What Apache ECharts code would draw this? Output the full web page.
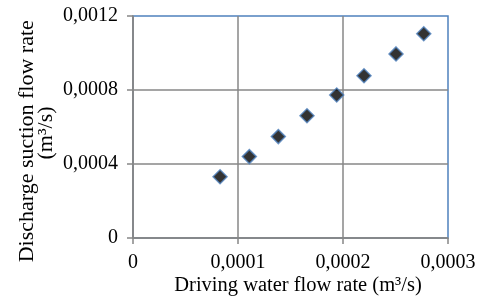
<!DOCTYPE html>
<html>
<head>
<meta charset="utf-8">
<script src="https://cdn.jsdelivr.net/npm/echarts@6/dist/echarts.min.js"></script>
<style>html,body{margin:0;padding:0;background:#fff}#c{width:478px;height:298px}</style>
</head>
<body>
<div id="c"></div>
<script>
const xTitle = 'Driving water flow rate (m³/s)';
const yTitle = 'Discharge suction flow rate   \n(m³/s)';
const drivingFlow = [0.0000829, 0.0001108, 0.0001384, 0.0001657, 0.000194, 0.00022, 0.0002505, 0.0002769];
const suctionFlow = [0.000331, 0.000440, 0.000548, 0.000661, 0.000773, 0.000877, 0.000995, 0.001104];

const fmt = v => v === 0 ? '0' : v.toFixed(4).replace('.', ',');
const font = '"Liberation Serif", "Times New Roman", serif';
const grey = '#878787';
const blue = '#4f81bd';

const chart = echarts.init(document.getElementById('c'), null, {renderer: 'canvas'});
chart.setOption({
  animation: false,
  grid: {left: 133, right: 30, top: 16, bottom: 60, outerBoundsMode: 'none', containLabel: false, show: true, borderColor: blue, borderWidth: 1.5, backgroundColor: 'transparent'},
  xAxis: {
    type: 'value', min: 0, max: 0.0003, interval: 0.0001,
    name: xTitle, nameLocation: 'middle', nameGap: 37, nameMoveOverlap: false,
    nameTextStyle: {fontFamily: font, fontSize: 20.5, color: '#000', padding: [0, 0, 0, 15]},
    axisLine: {show: true, onZero: false, lineStyle: {color: grey, width: 1.5}},
    axisTick: {show: true, length: 6, lineStyle: {color: grey, width: 1.5}},
    axisLabel: {formatter: fmt, fontFamily: font, fontSize: 20, color: '#000', margin: 15},
    splitLine: {show: true, showMaxLine: false, lineStyle: {color: grey, width: 1.5}}
  },
  yAxis: {
    type: 'value', min: 0, max: 0.0012, interval: 0.0004,
    name: yTitle, nameLocation: 'middle', nameGap: 77, nameRotate: 90, nameMoveOverlap: false,
    nameTextStyle: {fontFamily: font, fontSize: 22, color: '#000', lineHeight: 19, padding: [0, 12, 0, 0]},
    axisLine: {show: true, onZero: false, lineStyle: {color: grey, width: 1.5}},
    axisTick: {show: true, length: 6, lineStyle: {color: grey, width: 1.5}},
    axisLabel: {formatter: fmt, fontFamily: font, fontSize: 20, color: '#000', margin: 15},
    splitLine: {show: true, showMaxLine: false, lineStyle: {color: grey, width: 1.5}}
  },
  series: [{
    type: 'scatter',
    symbol: 'diamond',
    symbolSize: 14,
    itemStyle: {color: '#000', borderColor: blue, borderWidth: 1.5},
    data: drivingFlow.map((x, i) => [x, suctionFlow[i]])
  }]
});
</script>
</body>
</html>
